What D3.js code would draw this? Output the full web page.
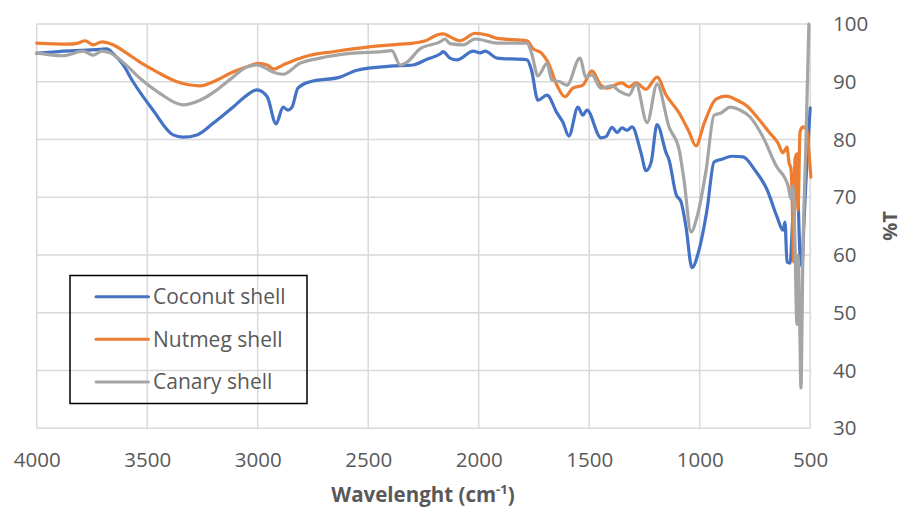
<!DOCTYPE html>
<html><head><meta charset="utf-8">
<script src="https://cdn.jsdelivr.net/npm/d3@7"></script>
<style>body{margin:0;background:#fff}svg{display:block}text{font-family:"Open Sans",sans-serif}</style>
</head><body><svg id="c" width="904" height="510"></svg>
<script>
(function(){
const seriesNames = ["Coconut shell", "Nutmeg shell", "Canary shell"];
const seriesColors = ["#4472C4", "#ED7D31", "#A5A5A5"];
const xTicks = [4000, 3500, 3000, 2500, 2000, 1500, 1000, 500];
const yTicks = [30, 40, 50, 60, 70, 80, 90, 100];

const coconut = [[4000,94.9],[3880,95.3],[3714,95.6],[3682,95.7],[3655,94.9],[3610,93.0],[3564,90.0],[3474,85.1],[3383,80.8],[3338,80.4],[3275,80.8],[3202,82.8],[3112,85.6],[3048,87.7],[3003,88.6],[2957,87.4],[2917,82.7],[2885,85.6],[2863,85.1],[2845,85.6],[2818,88.9],[2763,90.0],[2628,90.8],[2551,92.0],[2401,92.7],[2297,92.9],[2234,93.9],[2175,94.8],[2161,95.2],[2130,94.1],[2098,93.8],[2025,95.3],[1993,95.0],[1971,95.3],[1917,94.1],[1781,93.8],[1761,92.0],[1732,86.8],[1691,87.7],[1646,84.6],[1619,83.0],[1592,80.6],[1551,85.6],[1529,84.2],[1510,85.1],[1447,80.3],[1424,80.5],[1397,82.1],[1374,81.2],[1352,82.0],[1329,81.6],[1306,82.2],[1265,77.6],[1243,74.6],[1220,76.0],[1193,82.6],[1152,77.7],[1139,76.5],[1107,70.5],[1084,69.2],[1062,64.9],[1035,57.8],[1003,60.9],[967,67.8],[935,76.1],[899,76.6],[854,77.1],[804,77.0],[750,74.7],[695,71.3],[650,66.6],[623,64.3],[614,65.7],[605,58.8],[591,58.6],[582,64],[573,72],[564,76],[555,70],[546,60],[537,58],[528,66],[515,76],[500,85.5]];

const nutmeg = [[4000,96.7],[3863,96.5],[3813,96.7],[3781,97.1],[3745,96.4],[3705,96.9],[3655,96.4],[3591,94.9],[3533,93.4],[3456,91.7],[3365,90.0],[3261,89.3],[3184,90.3],[3112,91.7],[3048,92.6],[2998,93.2],[2957,92.9],[2926,92.2],[2885,92.9],[2822,93.9],[2763,94.6],[2659,95.2],[2505,96.0],[2356,96.5],[2297,96.7],[2234,97.2],[2189,98.1],[2161,98.3],[2130,97.8],[2084,97.1],[2016,98.4],[1962,98.1],[1917,97.5],[1781,97.1],[1756,95.8],[1714,94.9],[1687,93.4],[1646,89.4],[1610,87.4],[1574,88.9],[1529,89.4],[1488,91.9],[1447,89.4],[1420,88.9],[1352,89.8],[1320,89.1],[1288,89.8],[1243,88.7],[1193,90.8],[1152,87.7],[1093,84.6],[1048,81.3],[1017,78.9],[980,82.8],[926,87.0],[881,87.5],[831,86.8],[786,85.8],[741,83.9],[682,81.1],[646,79.4],[623,77.7],[605,78.7],[596,76.0],[587,75.0],[582,70.7],[575,58.8],[569,76.5],[560,77.5],[555,67.8],[546,81.3],[533,82.2],[515,81.6],[506,78],[497,73.5]];

const canary = [[4000,95.0],[3881,94.5],[3790,95.3],[3745,94.6],[3705,95.3],[3668,95.0],[3610,93.4],[3533,90.6],[3443,88.0],[3338,86.0],[3261,86.8],[3184,88.6],[3112,90.8],[3048,92.6],[3003,92.9],[2957,92.2],[2931,91.7],[2885,91.3],[2809,93.2],[2718,94.1],[2582,94.9],[2415,95.3],[2393,95.4],[2356,92.9],[2324,93.4],[2266,95.7],[2175,96.9],[2152,97.4],[2130,96.6],[2070,96.4],[2016,97.4],[1917,96.7],[1781,96.7],[1761,95.0],[1732,91.0],[1691,93.2],[1669,90.3],[1632,90.0],[1601,89.4],[1542,94.1],[1515,90.8],[1488,91.2],[1447,88.9],[1397,89.3],[1365,88.4],[1320,87.7],[1288,89.6],[1238,82.9],[1193,89.6],[1139,82.2],[1093,78.2],[1071,73.0],[1039,64.0],[1012,66.6],[971,74.7],[935,84.2],[903,84.6],[863,85.6],[818,85.1],[772,83.9],[713,80.4],[650,75.2],[614,73.3],[600,72],[587,69.7],[578,72],[569,62],[560,48],[555,60],[546,45],[542,37],[533,60],[519,80],[506,100]];

const seriesData = [coconut, nutmeg, canary];

const svg = d3.select("#c");
const pLeft = 36.7, pRight = 810.2, pTop = 24, pBottom = 428.3;
const x = d3.scaleLinear().domain([4000, 500]).range([pLeft, pRight]);
const y = d3.scaleLinear().domain([30, 100]).range([pBottom, pTop]);

const g = svg.append("g");
g.selectAll(".hg").data(yTicks).enter().append("line")
  .attr("x1", pLeft).attr("x2", pRight).attr("y1", d => y(d)).attr("y2", d => y(d))
  .attr("stroke", "#d9d9d9").attr("stroke-width", 1.5);
g.selectAll(".vg").data(xTicks).enter().append("line")
  .attr("y1", pTop).attr("y2", pBottom).attr("x1", d => x(d)).attr("x2", d => x(d))
  .attr("stroke", "#d9d9d9").attr("stroke-width", 1.5);

const xAxis = d3.axisBottom(x).tickValues(xTicks).tickSize(0).tickPadding(0).tickFormat(d3.format("d"));
const xg = svg.append("g").attr("transform", `translate(0,${pBottom + 32})`).call(xAxis);
xg.select(".domain").remove();
xg.selectAll("text").attr("font-size", 20.5).attr("fill", "#595959").attr("font-family", "Open Sans").attr("dy", "0.35em");

const yAxis = d3.axisRight(y).tickValues(yTicks).tickSize(0).tickPadding(0);
const yg = svg.append("g").attr("transform", `translate(833,0)`).call(yAxis);
yg.select(".domain").remove();
yg.selectAll("text").attr("font-size", 20.5).attr("fill", "#595959").attr("font-family", "Open Sans");

const line = d3.line().x(d => x(d[0])).y(d => y(d[1])).curve(d3.curveMonotoneX);
seriesData.forEach((s, i) => {
  svg.append("path").datum(s).attr("d", line).attr("fill", "none")
    .attr("stroke", seriesColors[i]).attr("stroke-width", 3.2)
    .attr("stroke-linejoin", "round").attr("stroke-linecap", "round");
});

const xt = svg.append("text").attr("x", 423).attr("y", 502).attr("text-anchor", "middle")
  .attr("font-size", 20.5).attr("font-weight", "bold").attr("fill", "#595959");
xt.append("tspan").text("Wavelenght (cm");
xt.append("tspan").text("-1").attr("font-size", 13).attr("dy", -8);
xt.append("tspan").text(")").attr("dy", 8);

svg.append("text").attr("transform", "translate(897,226) rotate(-90)").attr("text-anchor", "middle")
  .attr("font-size", 20).attr("font-weight", "bold").attr("fill", "#595959").text("%T");

const lg = svg.append("g");
lg.append("rect").attr("x", 70).attr("y", 275.5).attr("width", 237).attr("height", 128)
  .attr("fill", "none").attr("stroke", "#000").attr("stroke-width", 1.5);
seriesNames.forEach((n, i) => {
  const yy = 296.7 + i * 42.6;
  lg.append("line").attr("x1", 96).attr("x2", 148.5).attr("y1", yy).attr("y2", yy)
    .attr("stroke", seriesColors[i]).attr("stroke-width", 3).attr("stroke-linecap", "round");
  lg.append("text").attr("x", 153).attr("y", yy).attr("dy", "0.35em")
    .attr("font-size", 21).attr("fill", "#595959").text(n);
});
})();
</script></body></html>
